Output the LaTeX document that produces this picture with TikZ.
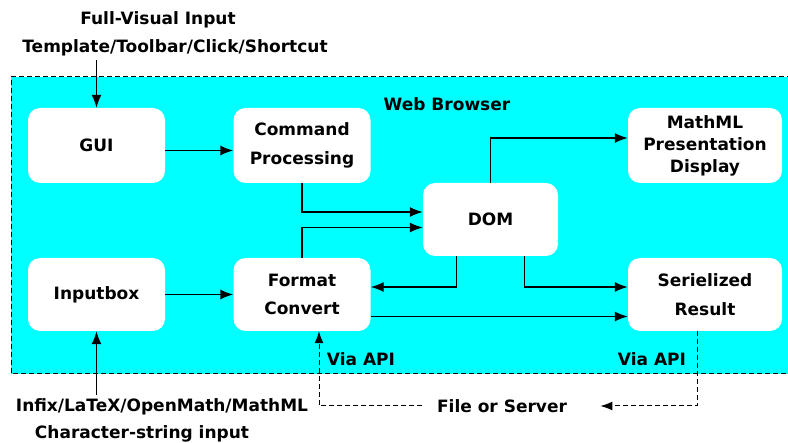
\documentclass[tikz,border=0pt]{standalone}
\usepackage{fontspec}
\setmainfont{DejaVu Sans}
\usetikzlibrary{arrows.meta,calc}
\definecolor{browser}{RGB}{0,255,255}

\begin{document}
\begin{tikzpicture}[x=1pt,y=-1pt,every node/.style={font=\bfseries\fontsize{17}{20}\selectfont},
    blk/.style={fill=white,rounded corners=12pt,align=center,inner sep=0pt},
    two/.style={font=\bfseries\fontsize{17}{28.5}\selectfont},
    arr/.style={line width=1.4pt,-{Latex[length=13pt,width=10pt]}},
    dsh/.style={line width=1pt,dash pattern=on 5pt off 3pt}]
  \useasboundingbox (0,0) rectangle (788,443);
  \fill[browser] (11,77) rectangle (792,374);
  \draw[dsh] (792,77) -- (11,77) -- (11,374) -- (792,374);
  \node (web) at (447,104) {Web Browser};
  % boxes
  \node[blk,minimum width=137pt,minimum height=75pt] (gui) at (96.5,145.5) {GUI};
  \node[blk,two,minimum width=137pt,minimum height=75pt] (cmd) at (302,145.5) {Command\\Processing};
  \node[blk,minimum width=154pt,minimum height=75pt,font=\bfseries\fontsize{17}{22}\selectfont] (mml) at (705,145.5) {MathML\\Presentation\\Display};
  \node[blk,minimum width=135pt,minimum height=73pt] (dom) at (490.5,219.5) {DOM};
  \node[blk,minimum width=137pt,minimum height=73pt] (inp) at (96.5,294.5) {Inputbox};
  \node[blk,two,minimum width=137pt,minimum height=73pt] (fmt) at (302,294.5) {Format\\Convert};
  \node[blk,two,minimum width=154pt,minimum height=73pt] (ser) at (705,294.5) {Serielized\\Result};
  % outside texts
  \node (fvi) at (158,20) {Full-Visual Input};
  \node (tpl) at (175,48) {Template/Toolbar/Click/Shortcut};
  \node (ifx) at (162,407) {Infix/LaTeX/OpenMath/MathML};
  \node (csi) at (142,434) {Character-string input};
  \node (fos) at (502,406) {File or Server};
  \node (via1) at (361,359) {Via API};
  \node (via2) at (652,359) {Via API};
  % arrows
  \draw[arr] (gui |- tpl.south) -- (gui);
  \draw[arr] (inp |- ifx.north) -- (inp);
  \draw[arr] ([yshift=-5pt]gui.east) -- ([yshift=-5pt]cmd.west);
  \draw[arr] (inp) -- (fmt);
  \draw[arr] (cmd.south) |- ([yshift=7.5pt]dom.west);
  \draw[arr] (fmt.north) |- ([yshift=-8pt]dom.west);
  \draw[arr] ([xshift=-34pt]dom.south) |- ([yshift=7.5pt]fmt.east);
  \draw[arr] ([xshift=34pt]dom.south) |- ([yshift=7.5pt]ser.west);
  \draw[arr] ([yshift=-22pt]fmt.east) -- ([yshift=-22pt]ser.west);
  \draw[arr] (dom.north) |- ([yshift=7.5pt]mml.west);
  % via api
  \coordinate (vl) at (319,406);
  \coordinate (vr) at (697,406);
  \draw[dsh,-{Latex[length=12pt,width=9pt]}] (ser.south -| vr) -- (vr) -- ([xshift=30pt]fos.east);
  \draw[dsh,-{Latex[length=12pt,width=9pt]}] ([xshift=-12pt]fos.west) -- (vl) -- (fmt.south -| vl);
\end{tikzpicture}
\end{document}
